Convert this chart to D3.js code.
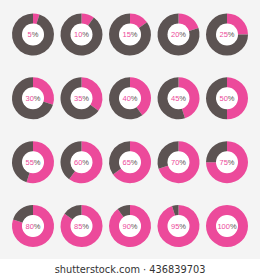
<!DOCTYPE html>
<html>
<head>
<meta charset="utf-8">
<script src="https://cdnjs.cloudflare.com/ajax/libs/d3/7.8.5/d3.min.js"></script>
<style>
  body { margin: 0; padding: 0; background: #fff; }
  svg { display: block; }
</style>
</head>
<body>
<svg></svg>
<script>
// Percent values for each donut (row by row).
var percents = [5, 10, 15, 20, 25, 30, 35, 40, 45, 50, 55, 60, 65, 70, 75, 80, 85, 90, 95, 100];
var columns = [0, 1, 2, 3, 4];
var rows = [0, 1, 2, 3];
var footer = "shutterstock.com \u00b7 436839703";

var pink = "#ec4a9b", grey = "#5c5352";

var svg = d3.select("svg")
  .attr("width", 260)
  .attr("height", 280);

// Grey background panel, white strip for footer.
svg.append("rect").attr("width", 260).attr("height", 259).attr("fill", "#f4f4f4");

var x = d3.scalePoint().domain(columns).range([33, 227]);
var y = d3.scalePoint().domain(rows).range([34.5, 226]);

var pie = d3.pie().sort(null).value(function(d){ return d; });
var arc = d3.arc().innerRadius(10.5).outerRadius(21);

var g = svg.selectAll("g.donut")
  .data(percents)
  .enter()
  .append("g")
  .attr("class", "donut")
  .attr("transform", function(d, i){
    return "translate(" + x(i % 5) + "," + y(Math.floor(i / 5)) + ")";
  });

g.selectAll("path")
  .data(function(d){ return pie([d, 100 - d]); })
  .enter()
  .append("path")
  .attr("d", arc)
  .attr("fill", function(d, i){ return i === 0 ? pink : grey; });

// white hole
g.append("circle").attr("r", 11).attr("fill", "#fff");

var label = g.append("text")
  .attr("text-anchor", "middle")
  .attr("dy", "0.35em")
  .style("font-family", "'Liberation Sans', Arial, sans-serif")
  .style("font-size", "7.5px");
label.append("tspan").attr("fill", pink).text(function(d){ return d; });
label.append("tspan").attr("fill", grey).text("%");

svg.append("text")
  .attr("x", 130)
  .attr("y", 273)
  .attr("text-anchor", "middle")
  .style("font-family", "'DejaVu Sans', sans-serif")
  .style("font-size", "9.8px")
  .attr("fill", "#333")
  .text(footer);
</script>
</body>
</html>
